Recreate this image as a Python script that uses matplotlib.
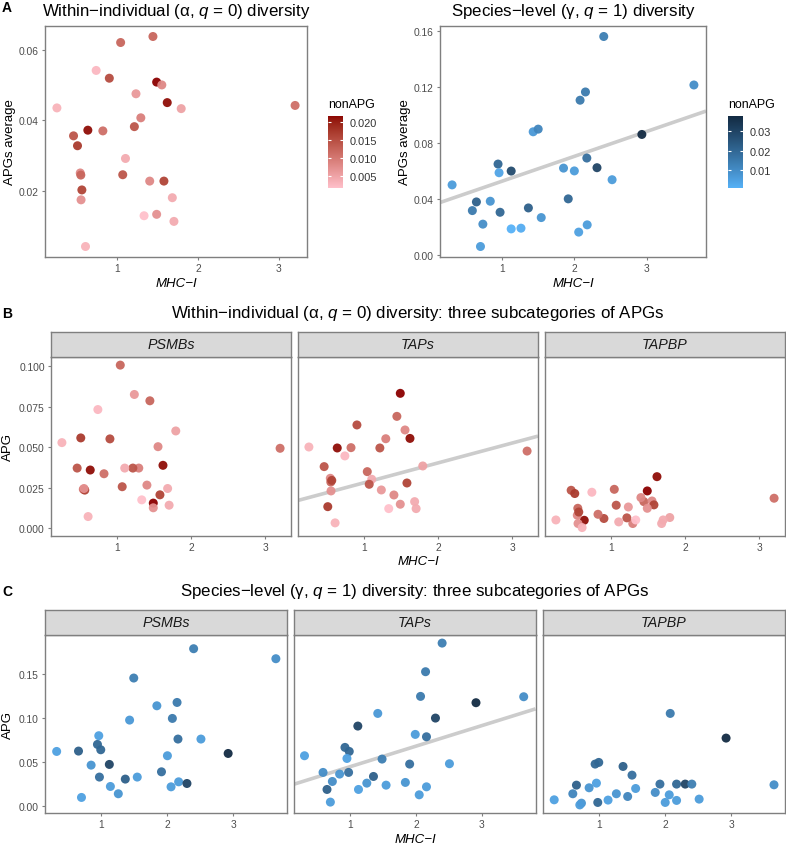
import numpy as np
import matplotlib
matplotlib.use('Agg')
import matplotlib.pyplot as plt
from matplotlib.colors import ListedColormap, Normalize

plt.rcParams['font.family'] = ['Liberation Sans', 'DejaVu Sans']
plt.rcParams['mathtext.fontset'] = 'custom'
plt.rcParams['mathtext.rm'] = 'Liberation Sans'
plt.rcParams['mathtext.it'] = 'Liberation Sans:italic'

# ---------------- data: within-individual (alpha, q=0) ----------------
mhc_alpha = [0.251, 0.737, 0.90, 1.04, 1.44, 1.486, 1.55, 1.617, 1.79, 1.23,
             1.29, 1.21, 0.82, 0.634, 0.457, 0.506, 1.10, 0.54, 0.547, 1.066,
             1.40, 1.576, 0.56, 0.55, 1.68, 1.33, 1.486, 1.70, 0.605, 3.20]
nonapg_alpha = [0.003, 0.0025, 0.015, 0.012, 0.012, 0.0217, 0.008, 0.021, 0.005, 0.006,
                0.009, 0.014, 0.011, 0.021, 0.014, 0.017, 0.004, 0.008, 0.012, 0.014,
                0.008, 0.016, 0.016, 0.007, 0.004, 0.0015, 0.007, 0.004, 0.003, 0.011]
avg_alpha = [0.0435, 0.0541, 0.0519, 0.062, 0.0637, 0.0508, 0.050, 0.045, 0.0433, 0.0475,
             0.0407, 0.0382, 0.037, 0.0372, 0.0356, 0.0328, 0.0292, 0.0251, 0.0245, 0.0246,
             0.0228, 0.0228, 0.0203, 0.0175, 0.0181, 0.0130, 0.0134, 0.0114, 0.0043, 0.0442]
psmb_alpha = [0.0528, 0.0732, 0.0551, 0.1006, 0.0786, 0.0155, 0.0503, 0.0388, 0.060, 0.0825,
              0.0371, 0.0371, 0.0336, 0.0359, 0.0371, 0.0557, 0.0371, 0.0240, 0.0241, 0.0256,
              0.0266, 0.0206, 0.0235, 0.0245, 0.0245, 0.0175, 0.0126, 0.0142, 0.0072, 0.0493]
taps_alpha = [0.0501, 0.0446, 0.0637, 0.0349, 0.069, 0.0832, 0.0606, 0.0554, 0.0384, 0.0236,
              0.0552, 0.0495, 0.0497, 0.0495, 0.038, 0.0133, 0.0302, 0.0308, 0.0285, 0.0271,
              0.0205, 0.0279, 0.0295, 0.023, 0.0164, 0.0121, 0.0148, 0.0121, 0.0033, 0.0476]
tapbp_alpha = [0.0051, 0.0222, 0.006, 0.024, 0.0164, 0.023, 0.0168, 0.0318, 0.0066, 0.0131,
               0.0029, 0.0064, 0.0086, 0.0049, 0.0234, 0.0214, 0.0039, 0.008, 0.0123, 0.0142,
               0.0189, 0.0144, 0.0100, 0.0029, 0.0029, 0.0051, 0.0123, 0.0051, 0.0004, 0.0185]

# ---------------- data: species-level (gamma, q=1) ----------------
mhc_gamma = [0.316, 0.595, 0.651, 0.74, 0.707, 0.842, 0.949, 0.963, 0.977, 1.13,
             1.13, 1.265, 1.367, 1.433, 1.502, 1.544, 1.851, 2.0, 1.916, 2.06,
             2.079, 2.153, 2.172, 2.177, 2.312, 2.405, 2.52, 2.93, 3.647]
nonapg_gamma = [0.006, 0.015, 0.022, 0.010, 0.006, 0.008, 0.020, 0.004, 0.020, 0.028,
                0.0008, 0.002, 0.022, 0.007, 0.012, 0.008, 0.008, 0.006, 0.020, 0.005,
                0.015, 0.015, 0.018, 0.006, 0.030, 0.014, 0.006, 0.0377, 0.010]
avg_gamma = [0.050, 0.0316, 0.0378, 0.0219, 0.0059, 0.0383, 0.0649, 0.0587, 0.0304, 0.0599,
             0.0185, 0.019, 0.0335, 0.088, 0.0899, 0.0266, 0.062, 0.060, 0.040, 0.0162,
             0.1106, 0.1165, 0.0692, 0.0214, 0.0623, 0.1562, 0.0537, 0.0861, 0.1215]

psmb_g_x = [0.322, 0.653, 0.698, 0.844, 0.94, 0.96, 0.99, 0.97, 1.12, 1.136, 1.256, 1.362,
            1.427, 1.49, 1.543, 1.84, 1.91, 2.0, 2.055, 2.075, 2.146, 2.16, 2.17, 2.296,
            2.397, 2.508, 2.92, 3.643]
psmb_g_y = [0.0619, 0.0623, 0.0095, 0.0463, 0.0699, 0.0798, 0.0638, 0.0327, 0.0471, 0.022,
            0.0137, 0.0304, 0.0976, 0.1455, 0.0327, 0.1139, 0.0387, 0.057, 0.0216, 0.0995,
            0.1177, 0.076, 0.0273, 0.0254, 0.1789, 0.076, 0.0596, 0.1675]
psmb_g_c = [0.005, 0.022, 0.005, 0.008, 0.020, 0.005, 0.020, 0.018, 0.030, 0.006, 0.008, 0.022,
            0.007, 0.014, 0.006, 0.008, 0.018, 0.006, 0.006, 0.015, 0.015, 0.018, 0.006, 0.030,
            0.014, 0.006, 0.0377, 0.010]

taps_g_x = [2.397, 2.146, 2.07, 2.91, 3.633, 1.422, 1.12, 2.296, 1.99, 2.16, 0.312, 0.925,
            0.99, 0.955, 1.487, 0.593, 0.844, 0.98, 0.734, 0.653, 0.704, 1.13, 1.256, 1.357,
            1.548, 1.905, 1.84, 2.05, 2.16, 2.508]
taps_g_y = [0.1853, 0.1527, 0.1246, 0.1174, 0.1242, 0.1052, 0.0908, 0.0999, 0.0813, 0.0786,
            0.057, 0.0665, 0.0619, 0.0539, 0.0532, 0.038, 0.0361, 0.038, 0.0277, 0.0186,
            0.0042, 0.0186, 0.0258, 0.0334, 0.0235, 0.0475, 0.0266, 0.0125, 0.0216, 0.0479]
taps_g_c = [0.014, 0.015, 0.015, 0.0377, 0.010, 0.007, 0.030, 0.030, 0.006, 0.018, 0.005, 0.020,
            0.020, 0.005, 0.014, 0.010, 0.008, 0.018, 0.010, 0.022, 0.006, 0.005, 0.008, 0.022,
            0.006, 0.018, 0.008, 0.006, 0.006, 0.006]

tapbp_g_x = [2.073, 2.919, 0.935, 0.99, 1.358, 1.494, 0.652, 0.955, 0.844, 0.597, 0.315, 0.728,
             0.703, 0.975, 1.131, 1.257, 1.428, 1.549, 1.917, 1.846, 2.169, 2.30, 2.40, 2.058,
             1.997, 2.169, 2.511, 3.645]
tapbp_g_y = [0.1052, 0.0771, 0.0475, 0.0494, 0.0448, 0.0349, 0.0235, 0.0258, 0.0205, 0.0137,
             0.0068, 0.003, 0.001, 0.0038, 0.0065, 0.0137, 0.0106, 0.0197, 0.0247, 0.0152,
             0.0247, 0.0247, 0.0247, 0.0125, 0.0038, 0.0061, 0.0076, 0.0239]
tapbp_g_c = [0.015, 0.0377, 0.020, 0.020, 0.022, 0.018, 0.022, 0.005, 0.008, 0.012, 0.005, 0.008,
             0.006, 0.020, 0.005, 0.008, 0.012, 0.006, 0.018, 0.010, 0.020, 0.030, 0.014, 0.006,
             0.006, 0.006, 0.006, 0.010]

# fitted trend lines as shown in the figure: (intercept, slope)
fit_avg_gamma = (0.0347, 0.01786)
fit_taps_alpha = (0.01587, 0.01223)
fit_taps_gamma = (0.0210, 0.02345)

facet_names = ['PSMBs', 'TAPs', 'TAPBP']

# ---------------- helpers ----------------
W, H = 786, 845
fig = plt.figure(figsize=(W / 100, H / 100), dpi=100)

def rect(x0, y0, x1, y1):
    return [x0 / W, 1 - y1 / H, (x1 - x0) / W, (y1 - y0) / H]

def ftext(x, y, s, **kw):
    fig.text(x / W, 1 - y / H, s, **kw)

_M = np.array([[0.4124564, 0.3575761, 0.1804375],
               [0.2126729, 0.7151522, 0.0721750],
               [0.0193339, 0.1191920, 0.9503041]])
_WP = np.array([0.95047, 1.0, 1.08883])

def _lab(hexc):
    c = np.array([int(hexc[i:i + 2], 16) for i in (1, 3, 5)]) / 255.
    lin = np.where(c <= 0.04045, c / 12.92, ((c + 0.055) / 1.055) ** 2.4)
    xyz = _M @ lin / _WP
    f = np.where(xyz > 0.008856, np.cbrt(xyz), 7.787 * xyz + 16 / 116)
    return np.array([116 * f[1] - 16, 500 * (f[0] - f[1]), 200 * (f[1] - f[2])])

def _rgb(lab):
    L, a, b = lab
    fy = (L + 16) / 116
    f = np.array([fy + a / 500, fy, fy - b / 200])
    xyz = np.where(f ** 3 > 0.008856, f ** 3, (f - 16 / 116) / 7.787) * _WP
    lin = np.linalg.inv(_M) @ xyz
    lin = np.clip(lin, 0, None)
    c = np.where(lin <= 0.0031308, 12.92 * lin, 1.055 * lin ** (1 / 2.4) - 0.055)
    return np.clip(c, 0, 1)

def lab_cmap(lo, hi, n=256):
    a, b = _lab(lo), _lab(hi)
    return ListedColormap([_rgb(a + (b - a) * t) for t in np.linspace(0, 1, n)])

red_cmap = lab_cmap('#FFC0CB', '#8B0000')
blue_cmap = lab_cmap('#56B1F7', '#132B43')
red_norm = Normalize(min(nonapg_alpha), max(nonapg_alpha))
blue_norm = Normalize(min(nonapg_gamma + psmb_g_c + taps_g_c + tapbp_g_c),
                      max(nonapg_gamma + psmb_g_c + taps_g_c + tapbp_g_c))

def expand(vals, m=0.05):
    lo, hi = min(vals), max(vals)
    r = hi - lo
    return (lo - m * r, hi + m * r)

BORDER = '#7F7F7F'
TICKC = '#4D4D4D'

def style(ax, xlim, ylim, yticks=None, ylabels=None):
    ax.set_xlim(xlim)
    ax.set_ylim(ylim)
    ax.set_xticks([1, 2, 3])
    ax.set_xticklabels(['1', '2', '3'])
    if yticks is None:
        ax.set_yticks([])
    else:
        ax.set_yticks(yticks)
        ax.set_yticklabels(ylabels)
    for sp in ax.spines.values():
        sp.set_color(BORDER)
        sp.set_linewidth(1.0)
    ax.tick_params(length=2.5, width=0.8, color=BORDER, labelsize=7.4,
                   labelcolor=TICKC, pad=2)

def pts(ax, x, y, c, cmap, norm):
    ax.scatter(x, y, c=c, cmap=cmap, norm=norm, s=42, edgecolors='none',
               alpha=0.95, zorder=3)

def fitline(ax, coef, xlim):
    b0, b1 = coef
    xs = np.array(xlim)
    ax.plot(xs, b0 + b1 * xs, color='#CCCCCC', lw=2.6, zorder=2,
            solid_capstyle='butt')

def colorbar(px, cmap, norm, ticks, labels):
    cax = fig.add_axes(rect(*px))
    vmin, vmax = norm.vmin, norm.vmax
    grad = np.linspace(vmin, vmax, 256).reshape(-1, 1)
    cax.imshow(grad, cmap=cmap, norm=norm, aspect='auto', origin='lower',
               extent=[0, 1, vmin, vmax])
    cax.set_xlim(0, 1)
    cax.set_ylim(vmin, vmax)
    cax.set_xticks([])
    cax.yaxis.tick_right()
    cax.set_yticks(ticks)
    cax.set_yticklabels(labels)
    cax.tick_params(axis='y', length=0, labelsize=7.9, labelcolor='#333333', pad=5)
    for t in ticks:
        cax.hlines(t, 0, 0.2, color='white', lw=0.8)
        cax.hlines(t, 0.8, 1, color='white', lw=0.8)
    for sp in cax.spines.values():
        sp.set_visible(False)

def strip(px, label):
    sax = fig.add_axes(rect(*px))
    sax.set_facecolor('#D9D9D9')
    sax.set_xticks([])
    sax.set_yticks([])
    for sp in sax.spines.values():
        sp.set_color(BORDER)
        sp.set_linewidth(1.0)
    sax.text(0.5, 0.5, label, ha='center', va='center', fontsize=10.3,
             style='italic', color='#1A1A1A', transform=sax.transAxes)

TITLE_FS = 12.2
AXT_FS = 9.5

# ---------------- Panel A left ----------------
axA1 = fig.add_axes(rect(45, 27, 307, 258))
pts(axA1, mhc_alpha, avg_alpha, nonapg_alpha, red_cmap, red_norm)
style(axA1, expand(mhc_alpha), expand(avg_alpha), [0.02, 0.04, 0.06],
      ['0.02', '0.04', '0.06'])
axA1.set_ylabel('APGs average', fontsize=AXT_FS, labelpad=2)
axA1.set_xlabel('MHC−I', fontsize=AXT_FS, style='italic', labelpad=3)
ftext(176, 16, 'Within−individual (α, $q$ = 0) diversity', fontsize=TITLE_FS,
      ha='center', va='baseline')
colorbar((328, 116.7, 342.7, 189.3), red_cmap, red_norm,
         [0.005, 0.010, 0.015, 0.020], ['0.005', '0.010', '0.015', '0.020'])
ftext(328, 108, 'nonAPG', fontsize=8.9, ha='left', va='baseline')

# ---------------- Panel A right ----------------
axA2 = fig.add_axes(rect(440, 27, 706, 258))
xlA2 = expand(mhc_gamma)
fitline(axA2, fit_avg_gamma, xlA2)
pts(axA2, mhc_gamma, avg_gamma, nonapg_gamma, blue_cmap, blue_norm)
style(axA2, xlA2, expand(avg_gamma), [0.0, 0.04, 0.08, 0.12, 0.16],
      ['0.00', '0.04', '0.08', '0.12', '0.16'])
axA2.set_ylabel('APGs average', fontsize=AXT_FS, labelpad=2)
axA2.set_xlabel('MHC−I', fontsize=AXT_FS, style='italic', labelpad=3)
ftext(573, 16, 'Species−level (γ, $q$ = 1) diversity', fontsize=TITLE_FS,
      ha='center', va='baseline')
colorbar((728.3, 117.3, 742.7, 189.3), blue_cmap, blue_norm,
         [0.01, 0.02, 0.03], ['0.01', '0.02', '0.03'])
ftext(728, 108, 'nonAPG', fontsize=8.9, ha='left', va='baseline')

ftext(2, 12, 'A', fontsize=10, fontweight='bold', ha='left', va='baseline')

# ---------------- Panel B ----------------
B_series = [psmb_alpha, taps_alpha, tapbp_alpha]
B_xl = expand(mhc_alpha)
B_yl = expand(psmb_alpha + taps_alpha + tapbp_alpha)
B_cols = [(51, 291), (298, 538), (545, 785)]
for i, (x0, x1) in enumerate(B_cols):
    ax = fig.add_axes(rect(x0, 358, x1, 536.7))
    strip((x0, 332.7, x1, 358), facet_names[i])
    if i == 1:
        fitline(ax, fit_taps_alpha, B_xl)
    pts(ax, mhc_alpha, B_series[i], nonapg_alpha, red_cmap, red_norm)
    if i == 0:
        style(ax, B_xl, B_yl, [0, 0.025, 0.05, 0.075, 0.1],
              ['0.000', '0.025', '0.050', '0.075', '0.100'])
    else:
        style(ax, B_xl, B_yl)
ftext(418, 318, 'Within−individual (α, $q$ = 0) diversity: three subcategories of APGs',
      fontsize=TITLE_FS, ha='center', va='baseline')
ftext(2, 318, 'B', fontsize=10, fontweight='bold', ha='left', va='baseline')
ftext(418, 562, 'MHC−I', fontsize=AXT_FS, style='italic', ha='center', va='center')
ftext(8, 447, 'APG', fontsize=AXT_FS, rotation=90, ha='center', va='center')

# ---------------- Panel C ----------------
C_x = [psmb_g_x, taps_g_x, tapbp_g_x]
C_y = [psmb_g_y, taps_g_y, tapbp_g_y]
C_c = [psmb_g_c, taps_g_c, tapbp_g_c]
C_xl = expand(psmb_g_x + taps_g_x + tapbp_g_x)
C_yl = expand(psmb_g_y + taps_g_y + tapbp_g_y)
C_cols = [(45, 287), (293.5, 535.5), (543, 785)]
for i, (x0, x1) in enumerate(C_cols):
    ax = fig.add_axes(rect(x0, 636, x1, 814))
    strip((x0, 610.7, x1, 636), facet_names[i])
    if i == 1:
        fitline(ax, fit_taps_gamma, C_xl)
    pts(ax, C_x[i], C_y[i], C_c[i], blue_cmap, blue_norm)
    if i == 0:
        style(ax, C_xl, C_yl, [0, 0.05, 0.10, 0.15], ['0.00', '0.05', '0.10', '0.15'])
    else:
        style(ax, C_xl, C_yl)
ftext(415, 596, 'Species−level (γ, $q$ = 1) diversity: three subcategories of APGs',
      fontsize=TITLE_FS, ha='center', va='baseline')
ftext(2, 596, 'C', fontsize=10, fontweight='bold', ha='left', va='baseline')
ftext(415, 840, 'MHC−I', fontsize=AXT_FS, style='italic', ha='center', va='center')
ftext(8, 725, 'APG', fontsize=AXT_FS, rotation=90, ha='center', va='center')

fig.savefig('out.png', dpi=100)
